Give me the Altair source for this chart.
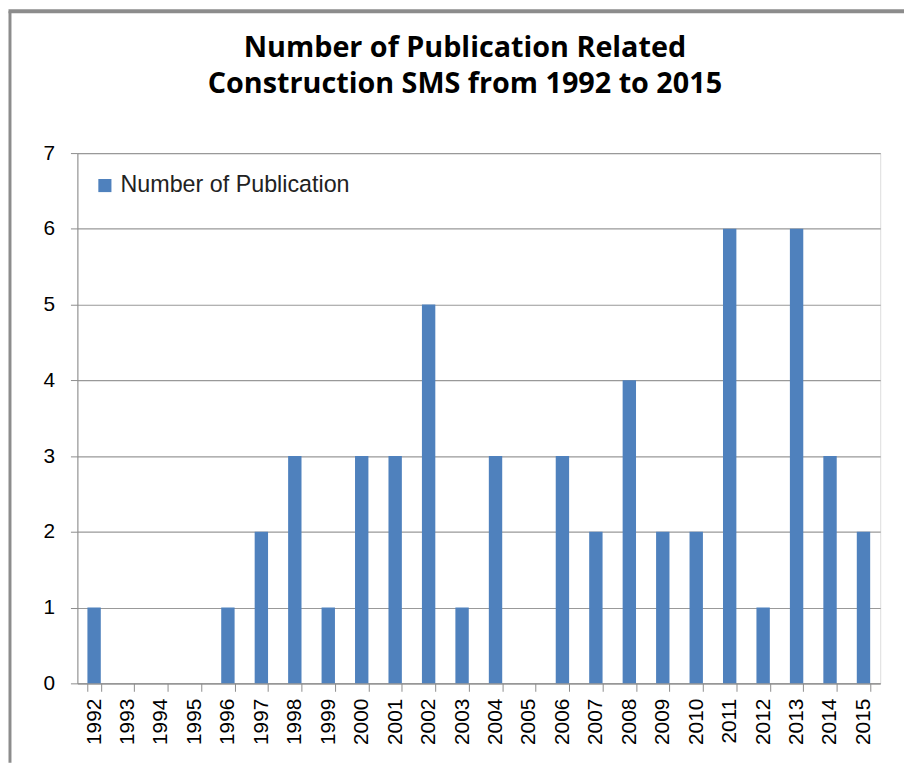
import altair as alt
import pandas as pd

years = [str(y) for y in range(1992, 2016)]
counts = [1, 0, 0, 0, 1, 2, 3, 1, 3, 3, 5, 1, 3, 0, 3, 2, 4, 2, 2, 6, 1, 6, 3, 2]
series_name = "Number of Publication"
title_lines = ["Number of Publication Related", "Construction SMS from 1992 to 2015"]

df = pd.DataFrame({"year": years, "count": counts, "series": [series_name] * len(years)})

W, H = 810, 535
PAD = {"left": 70, "top": 143, "right": 24, "bottom": 80}

bars = alt.Chart(df).mark_bar(color="#4F81BD").encode(
    x=alt.X("year:O", sort=years,
            scale=alt.Scale(paddingInner=0.6, paddingOuter=0.3),
            axis=alt.Axis(title=None, labelAngle=-90, tickBand="extent", tickSize=8,
                          labelPadding=7, labelFont="Liberation Sans", labelFontSize=21,
                          labelColor="#000000", domainColor="#8c8c8c", tickColor="#8c8c8c",
                          grid=False)),
    y=alt.Y("count:Q", scale=alt.Scale(domain=[0, 7], nice=False),
            axis=alt.Axis(title=None, values=[0, 1, 2, 3, 4, 5, 6, 7], tickSize=7,
                          labelPadding=16, labelFont="Liberation Sans", labelFontSize=21,
                          labelColor="#000000", domainColor="#8c8c8c", tickColor="#8c8c8c",
                          grid=True, gridColor="#999999", gridWidth=1.2)),
    color=alt.Color("series:N", scale=alt.Scale(range=["#4F81BD"]),
                    legend=alt.Legend(title=None, orient="none", legendX=16, legendY=21,
                                      symbolType="square", symbolSize=175, symbolStrokeWidth=0,
                                      labelFont="Liberation Sans", labelFontSize=23.5,
                                      labelLimit=500,
                                      labelColor="#222222", labelOffset=4)),
)

frame_left = alt.Chart(alt.Data(values=[{}])).mark_rule(color="#8c8c8c", strokeWidth=3).encode(
    x=alt.value(-68), y=alt.value(-143), y2=alt.value(H + PAD["bottom"])
)
frame_top = alt.Chart(alt.Data(values=[{}])).mark_rule(color="#8c8c8c", strokeWidth=4).encode(
    x=alt.value(-69.5), x2=alt.value(W + PAD["right"]), y=alt.value(-143)
)

chart = alt.layer(bars, frame_left, frame_top).properties(
    width=W, height=H,
    autosize=alt.AutoSizeParams(type="none"),
    padding=PAD,
    title=alt.TitleParams(text=title_lines, font="Open Sans", fontWeight="bold",
                          fontSize=29, lineHeight=36, offset=-90, dx=-14, frame="group",
                          color="#000000", anchor="middle"),
).configure_view(strokeWidth=0).configure(background="white")

chart.save("out.html", embed_options={"renderer": "svg", "actions": False})
